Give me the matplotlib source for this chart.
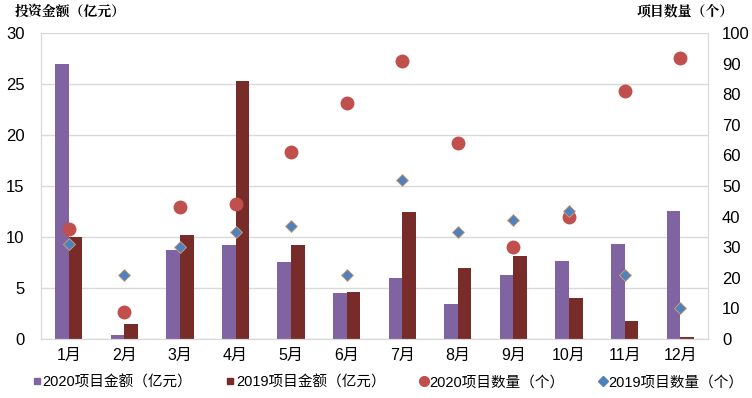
import numpy as np
import matplotlib
matplotlib.use("Agg")
import matplotlib.pyplot as plt
from matplotlib.lines import Line2D

plt.rcParams['font.family'] = ['Liberation Sans', 'Noto Sans CJK SC', 'DejaVu Sans']

months = ['1月', '2月', '3月', '4月', '5月', '6月', '7月', '8月', '9月', '10月', '11月', '12月']
amount_2020 = [27.0, 0.4, 8.7, 9.2, 7.6, 4.5, 6.0, 3.4, 6.3, 7.7, 9.3, 12.6]
amount_2019 = [10.0, 1.5, 10.2, 25.3, 9.2, 4.6, 12.5, 7.0, 8.1, 4.0, 1.8, 0.2]
count_2020 = [36, 9, 43, 44, 61, 77, 91, 64, 30, 40, 81, 92]
count_2019 = [31, 21, 30, 35, 37, 21, 52, 35, 39, 42, 21, 10]

c_purple = '#8064A2'
c_maroon = '#772C2A'
c_red = '#C0504D'
c_blue = '#4F81BD'
c_grid = '#D9D9D9'

fig = plt.figure(figsize=(7.52, 3.98), dpi=100)
ax = fig.add_axes([0.0545, 0.148, 0.887, 0.769])
ax2 = ax.twinx()

x = np.arange(len(months))
w = 0.245
ax.bar(x - w / 2, amount_2020, w, color=c_purple, zorder=2)
ax.bar(x + w / 2, amount_2019, w, color=c_maroon, zorder=2)

ax2.plot(x, count_2020, 'o', color=c_red, markersize=9, zorder=3)
ax2.plot(x, count_2019, 'D', color=c_blue, markersize=6.5, markeredgecolor='#D9A066',
         markeredgewidth=0.6, zorder=4)

ax.set_xlim(-0.5, len(months) - 0.5)
ax.set_ylim(0, 30)
ax.set_yticks(np.arange(0, 31, 5))
ax2.set_ylim(0, 100)
ax2.set_yticks(np.arange(0, 101, 10))
ax.set_xticks(x)
ax.set_xticklabels(months)

ax.yaxis.grid(True, color=c_grid, linewidth=1, zorder=0)
ax.set_axisbelow(True)
for a in (ax, ax2):
    a.tick_params(length=0, labelsize=12, colors='black')
    a.spines['top'].set_visible(False)
    a.spines['left'].set_color(c_grid)
    a.spines['right'].set_color(c_grid)
    a.spines['bottom'].set_color(c_grid)
ax.tick_params(axis='x', labelsize=11.5, pad=6)
ax.tick_params(axis='y', pad=12)
ax2.tick_params(axis='y', pad=10)
ax.patch.set_visible(False)
ax2.set_zorder(ax.get_zorder() + 1)

fig.text(0.02, 0.97, '投资金额（亿元）', fontsize=10, fontweight='bold',
         family=['Noto Serif CJK SC', 'Noto Sans CJK SC'], va='center', ha='left')
fig.text(0.975, 0.97, '项目数量（个）', fontsize=10, fontweight='bold',
         family=['Noto Serif CJK SC', 'Noto Sans CJK SC'], va='center', ha='right')

handles = [
    Line2D([], [], marker='s', linestyle='', color=c_purple, markersize=5),
    Line2D([], [], marker='s', linestyle='', color=c_maroon, markersize=5),
    Line2D([], [], marker='o', linestyle='', color=c_red, markersize=7),
    Line2D([], [], marker='D', linestyle='', color=c_blue, markersize=5),
]
labels = ['2020项目金额（亿元）', '2019项目金额（亿元）', '2020项目数量（个）', '2019项目数量（个）']
fig.legend(handles, labels, loc='center', bbox_to_anchor=(0.515, 0.04), ncol=4,
           frameon=False, fontsize=10.5, handletextpad=0.0, columnspacing=2.2,
           handlelength=0.8)

fig.savefig('out.png', dpi=100)
